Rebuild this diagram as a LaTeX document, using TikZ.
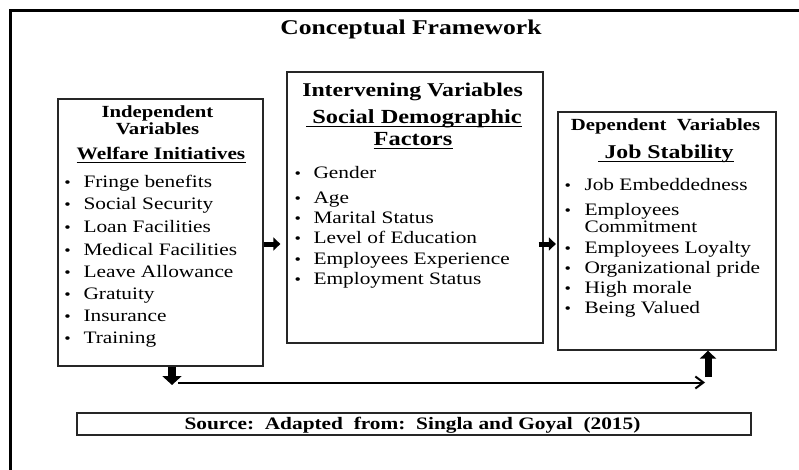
\documentclass[tikz,border=0pt]{standalone}
\usepackage{fontspec}
\setmainfont{Liberation Serif}[FakeStretch=1.22]
\usetikzlibrary{arrows.meta}
\begin{document}
\begin{tikzpicture}[x=1pt,y=-1pt,
  box/.style={draw=black!85, line width=1.3pt, inner sep=0pt},
  item/.style={inner sep=0pt, anchor=base west, font=\fontsize{17.5}{21}\selectfont},
  bul/.style={inner sep=0pt, anchor=base, font=\fontsize{15}{18}\selectfont},
  hd/.style={inner sep=0pt, anchor=base, font=\bfseries\fontsize{17}{20}\selectfont},
  sub/.style={inner sep=0pt, anchor=base, font=\bfseries\fontsize{20}{24}\selectfont},
  ulline/.style={line width=1pt},
  blockarrow/.style={draw=black}
]
\useasboundingbox (0,0) rectangle (799,470);
\fill[white] (0,0) rectangle (799,470);
\draw[line width=2.6pt, line join=miter] (10.3,470) -- (10.3,10.3) -- (799,10.3);

\node[inner sep=0pt, anchor=base, font=\bfseries\fontsize{21}{25}\selectfont] (title) at (411,34.3) {Conceptual Framework};

% boxes
\node[box, minimum width=205pt, minimum height=267pt] (L) at (160.5,232.5) {};
\node[box, minimum width=256pt, minimum height=271pt] (M) at (415,207.5) {};
\node[box, minimum width=218pt, minimum height=238pt] (R) at (667,231) {};
\node[box, minimum width=674pt, minimum height=22pt] (S) at (414,424) {};

% left headers
\node[hd] (Lh1) at (157.5,118) {Independent};
\node[hd] (Lh2) at (157.5,135) {Variables};
\node[hd, font=\bfseries\fontsize{17.5}{21}\selectfont] (Lh3) at (161,160) {Welfare Initiatives};
\draw[ulline] ([yshift=-2.5pt]Lh3.base west) -- ([yshift=-2.5pt]Lh3.base east);

% middle headers
\node[sub, font=\bfseries\fontsize{19.5}{23}\selectfont] (Mh1) at (412.5,97) {Intervening Variables};
\node[sub] (Mh2) at (414,124) {\ Social Demographic};
\draw[ulline] ([yshift=-2.5pt]Mh2.base west) -- ([yshift=-2.5pt]Mh2.base east);
\node[sub] (Mh3) at (413,146) {Factors};
\draw[ulline] ([yshift=-2.5pt]Mh3.base west) -- ([yshift=-2.5pt]Mh3.base east);

% right headers
\node[hd] (Rh1) at (665.5,131) {Dependent\ \ Variables};
\node[sub, font=\bfseries\fontsize{19.5}{23}\selectfont] (Rh2) at (666,159) {\ Job Stability};
\draw[ulline] ([yshift=-2.5pt]Rh2.base west) -- ([yshift=-2.5pt]Rh2.base east);

% left items
\foreach \y/\t [count=\n] in {188/Fringe benefits, 210/Social Security, 232.3/Loan Facilities,
  255/Medical Facilities, 277/Leave Allowance, 299/Gratuity, 321.5/Insurance, 343.3/Training}{
  \node[bul] (Lb\n) at (67.7,\y) {•};
  \node[item] (Li\n) at (83.3,\y) {\t};
}

% middle items
\foreach \y/\t [count=\n] in {179/Gender, 203.3/Age, 223.3/Marital Status,
  243.3/Level of Education, 264/Employees Experience, 284/Employment Status}{
  \node[bul] (Mb\n) at (297.7,\y) {•};
  \node[item] (Mi\n) at (313.3,\y) {\t};
}

% right items
\foreach \y/\t [count=\n] in {191/Job Embeddedness, 215/Employees, 253.3/Employees Loyalty,
  273.3/Organizational pride, 293.3/High morale, 313.3/Being Valued}{
  \node[bul] (Rb\n) at (567.7,\y) {•};
  \node[item] (Ri\n) at (584.3,\y) {\t};
}
\node[item] (Ri2b) at (584.3,232.7) {Commitment};

% source
\node[inner sep=0pt, anchor=base, font=\bfseries\fontsize{17.5}{21}\selectfont] (src) at (412.5,429.3)
  {Source:\ \ Adapted\ \ from:\ \ Singla and Goyal\ \ (2015)};

% arrows
\coordinate (ay) at (0,244);
\draw[blockarrow, line width=5pt, -{Triangle[length=7pt,width=13pt]}, shorten >=6pt]
  (L.east |- ay) -- (M.west |- ay);
\draw[blockarrow, line width=5pt, -{Triangle[length=7pt,width=13pt]}, shorten <=-5pt, shorten >=1.5pt]
  (M.east |- ay) -- (R.west |- ay);

\coordinate (dn) at (172,385);
\draw[blockarrow, line width=8pt, -{Triangle[length=9pt,width=19pt]}] (L.south -| dn) -- (dn);

\coordinate (hl) at (178,382.5);
\coordinate (hr) at (705,382.5);
\draw[line width=2pt, -{Straight Barb[length=8pt,width=12pt]}] (hl) -- (hr);

\coordinate (up) at (708,377);
\draw[blockarrow, line width=7pt, -{Triangle[length=8pt,width=16pt]}] (up) -- (R.south -| up);
\end{tikzpicture}
\end{document}
